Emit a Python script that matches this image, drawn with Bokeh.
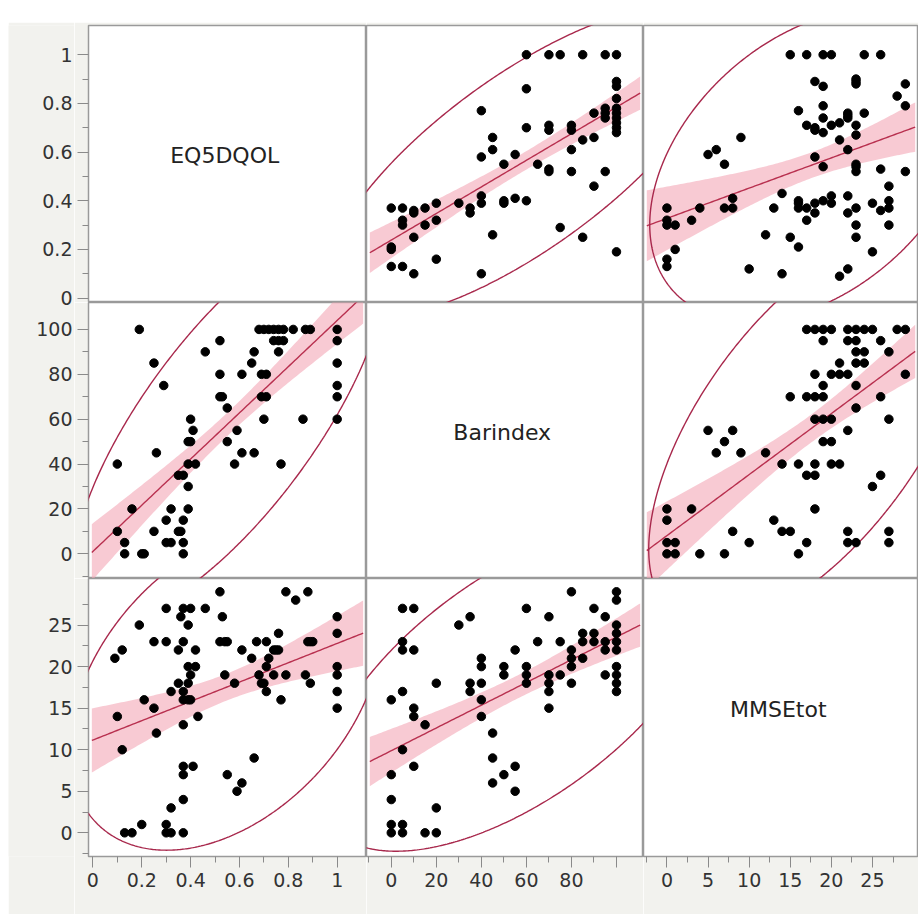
import numpy as np
from bokeh.plotting import figure
from bokeh.layouts import gridplot, column, row
from bokeh.models import FixedTicker, NumeralTickFormatter, Spacer, Range1d, Label
from bokeh.core.properties import value
from bokeh.embed import file_html
from bokeh.resources import INLINE

# ---------------- data ----------------
var_names = ["EQ5DQOL", "Barindex", "MMSEtot"]

# EQ5DQOL vs Barindex
eqbar_eq = [0.19, 0.10, 0.25, 0.29, 0.26, 0.16, 0.10, 0.13, 0.13, 0.20, 0.21, 0.25, 0.30, 0.32,
            0.30, 0.32, 0.35, 0.36, 0.37, 0.37, 0.37, 0.39, 0.39, 0.35, 0.37, 0.39, 0.42, 0.39,
            0.40, 0.41, 0.40, 0.46, 0.52, 0.52, 0.52, 0.53, 0.55, 0.55, 0.59, 0.58, 0.61, 0.66,
            0.61, 0.65, 0.66,
            0.68, 0.70, 0.72, 0.74, 0.76, 0.78, 0.82, 0.87, 0.89, 1.00,
            0.74, 0.76, 0.78, 1.00, 0.76, 0.69, 0.71, 0.69, 0.71, 1.00, 0.70, 0.86, 1.00, 0.77,
            1.00, 1.00]
eqbar_bar = [100, 40, 85, 75, 45, 20, 10, 5, 0, 0, 0, 10, 15, 20,
             5, 5, 10, 10, 15, 5, 0, 20, 30, 35, 35, 40, 40, 50,
             50, 55, 60, 90, 95, 80, 70, 70, 65, 50, 55, 40, 45, 45,
             80, 85, 90,
             100, 100, 100, 100, 100, 100, 100, 100, 100, 100,
             95, 95, 95, 95, 90, 80, 80, 70, 70, 70, 60, 60, 60, 40,
             85, 75]

# EQ5DQOL vs MMSEtot
eqmm_eq = [0.09, 0.12, 0.19, 0.10, 0.12, 0.13, 0.16, 0.20, 0.21, 0.25, 0.25, 0.26, 0.30, 0.30,
           0.30, 0.30, 0.32, 0.32, 0.32, 0.35, 0.35, 0.36, 0.37, 0.37, 0.37, 0.37, 0.39, 0.40,
           0.37, 0.37, 0.37, 0.37, 0.37, 0.39, 0.40, 0.39, 0.42, 0.40, 0.39, 0.42, 0.41, 0.43,
           0.46, 0.52, 0.53, 0.52, 0.54, 0.55, 0.54, 0.55, 0.58, 0.59, 0.61, 0.61, 0.65, 0.66,
           0.67, 0.68, 0.69, 0.70, 0.71, 0.71, 0.72, 0.71, 0.74, 0.74, 0.75, 0.76, 0.76, 0.77,
           0.79, 0.79, 0.83, 0.88, 0.87, 0.88, 0.89, 0.90, 0.89,
           1.00, 1.00, 1.00, 1.00, 1.00, 1.00]
eqmm_mm = [21, 22, 25, 14, 10, 0, 0, 1, 16, 23, 15, 12, 27, 23,
           1, 0, 0, 3, 17, 22, 18, 26, 27, 23, 17, 16, 16, 16,
           13, 8, 7, 4, 0, 25, 27, 20, 20, 19, 18, 22, 8, 14,
           27, 29, 26, 23, 23, 23, 19, 7, 18, 5, 6, 22, 21, 9,
           23, 19, 18, 18, 17, 23, 21, 20, 19, 22, 22, 22, 24, 16,
           19, 29, 28, 29, 19, 23, 23, 23, 18,
           26, 24, 20, 19, 17, 15]

# Barindex vs MMSEtot
barmm_bar = [0, 0, 0, 0, 0,
             5, 5, 5, 5, 5, 5, 5,
             10, 10, 10, 10, 10,
             15, 15,
             20, 20, 20,
             30,
             35, 35, 35,
             40, 40, 40, 40, 40,
             45, 45, 45,
             50, 50, 50,
             55, 55, 55,
             60, 60, 60, 60,
             65,
             70, 70, 70, 70, 70,
             75, 75,
             80, 80, 80, 80, 80,
             85, 85, 85,
             90, 90, 90,
             95, 95, 95, 95,
             100, 100, 100, 100, 100, 100, 100, 100, 100, 100]
barmm_mm = [16, 7, 4, 1, 0,
            27, 23, 22, 17, 10, 1, 0,
            27, 22, 15, 14, 8,
            13, 0,
            18, 3, 0,
            25,
            26, 18, 17,
            21, 20, 18, 16, 14,
            12, 9, 6,
            20, 19, 7,
            22, 8, 5,
            27, 20, 19, 18,
            23,
            26, 19, 18, 17, 15,
            23, 19,
            29, 22, 21, 20, 18,
            24, 23, 21,
            27, 24, 23,
            26, 23, 22, 19,
            29, 28, 25, 24, 23, 22, 20, 19, 18, 17]

pairs = {
    ("EQ5DQOL", "Barindex"): (eqbar_eq, eqbar_bar),
    ("EQ5DQOL", "MMSEtot"): (eqmm_eq, eqmm_mm),
    ("Barindex", "MMSEtot"): (barmm_bar, barmm_mm),
}

# Summary statistics of the full sample, bands and
# density ellipses shown in the picture (many observations overlap exactly).
stat_pair = [("EQ5DQOL", "Barindex"), ("EQ5DQOL", "MMSEtot"), ("Barindex", "MMSEtot")]
stat_mean_x = [0.558, 0.545, 55.7]
stat_mean_y = [58.5, 17.5, 17.5]
stat_sd_x = [0.255, 0.255, 35.0]
stat_sd_y = [35.0, 7.8, 7.85]
stat_r = [0.75, 0.38, 0.61]
stat_n = [80, 80, 80]

# tick values and their labels
major_ticks = {"EQ5DQOL": [0, 0.2, 0.4, 0.6, 0.8, 1],
               "Barindex": [0, 20, 40, 60, 80, 100],
               "MMSEtot": [0, 5, 10, 15, 20, 25]}
minor_ticks = {"EQ5DQOL": [0.1, 0.3, 0.5, 0.7, 0.9],
               "Barindex": [-10, 10, 30, 50, 70, 90],
               "MMSEtot": [-2.5, 2.5, 7.5, 12.5, 17.5, 22.5, 27.5]}
tick_labels = {"EQ5DQOL": ["0", "0.2", "0.4", "0.6", "0.8", "1"],
               "Barindex": ["0", "20", "40", "60", "80", "100"],
               "MMSEtot": ["0", "5", "10", "15", "20", "25"]}

# ---------------- styling / layout ----------------
axis_range = {"EQ5DQOL": (-0.018, 1.12), "Barindex": (-11.0, 112.0), "MMSEtot": (-2.85, 30.6)}
col_w = [278, 277, 275]
row_h = [277, 276, 278]
TOP_PAD = 3
BOTTOM_PAD = 58
LABEL_W = 66
TICK_W = 14
BG = "#f2f2ee"
FONT = "DejaVu Sans"
TEXT_COLOR = "#333333"
TICK_COLOR = "#8a8a8a"
FIT_COLOR = "#b8304f"
BAND_COLOR = "#f4a6b6"
ELL_COLOR = "#a8284c"


def get_xy(xv, yv):
    if (xv, yv) in pairs:
        a, b = pairs[(xv, yv)]
        return np.asarray(a, float), np.asarray(b, float)
    a, b = pairs[(yv, xv)]
    return np.asarray(b, float), np.asarray(a, float)


def get_stats(xv, yv):
    if (xv, yv) in stat_pair:
        k = stat_pair.index((xv, yv))
        return stat_mean_x[k], stat_mean_y[k], stat_sd_x[k], stat_sd_y[k], stat_r[k], stat_n[k]
    k = stat_pair.index((yv, xv))
    return stat_mean_y[k], stat_mean_x[k], stat_sd_y[k], stat_sd_x[k], stat_r[k], stat_n[k]


def style_axis(ax, var, show_labels=True, hide100=False):
    ax.ticker = FixedTicker(ticks=major_ticks[var], minor_ticks=minor_ticks[var])
    ax.axis_line_color = None
    ax.major_tick_in = 0
    ax.major_tick_out = 11
    ax.minor_tick_in = 0
    ax.minor_tick_out = 6
    ax.major_tick_line_color = TICK_COLOR
    ax.minor_tick_line_color = TICK_COLOR
    ax.major_label_text_font = FONT
    ax.major_label_text_color = TEXT_COLOR
    if show_labels:
        ax.formatter = NumeralTickFormatter(format="0.[0]")
        ax.major_label_text_font_size = "19px"
        ax.major_label_standoff = 5
        if hide100:
            ax.major_label_overrides = {100: ""}
    else:
        ax.major_label_overrides = {t: "" for t in major_ticks[var]}
        ax.major_label_text_font_size = "1px"
        ax.major_label_standoff = 0


grid_rows = []
for i, yv in enumerate(var_names):
    fig_row = []
    for j, xv in enumerate(var_names):
        xr = axis_range[xv]
        yr = axis_range[yv]
        p = figure(frame_width=col_w[j], frame_height=row_h[i],
                   x_range=Range1d(*xr), y_range=Range1d(*yr),
                   output_backend="svg", toolbar_location=None,
                   x_axis_location="below" if i == 2 else None,
                   y_axis_location="left" if j == 0 else None,
                   min_border=0,
                   min_border_left=TICK_W if j == 0 else 0,
                   min_border_bottom=BOTTOM_PAD if i == 2 else 0,
                   min_border_top=TOP_PAD if i == 0 else 0,
                   min_border_right=0)
        p.background_fill_color = "white"
        p.border_fill_color = BG
        p.outline_line_color = "#9a9a9a"
        p.outline_line_width = 1.5
        p.grid.visible = False
        if i == 2:
            style_axis(p.xaxis[0], xv, show_labels=True, hide100=(xv == "Barindex"))
        if j == 0:
            style_axis(p.yaxis[0], yv, show_labels=False)

        if i == j:
            lx = xr[0] + 0.49 * (xr[1] - xr[0])
            ly = yr[0] + 0.53 * (yr[1] - yr[0])
            p.add_layout(Label(x=lx, y=ly, text=xv, text_align="center",
                               text_baseline="middle", text_font=FONT,
                               text_font_size="22px", text_color="#222222"))
        else:
            x, y = get_xy(xv, yv)
            mx, my, sx, sy, r, n = get_stats(xv, yv)
            # least-squares line of y on x with 95% confidence band of the mean
            b1 = r * sy / sx
            b0 = my - b1 * mx
            s = sy * np.sqrt(1 - r ** 2) * np.sqrt((n - 1) / (n - 2))
            sxx = (n - 1) * sx ** 2
            span = xr[1] - xr[0]
            xs = np.linspace(xr[0] + 0.012 * span, xr[1] - 0.012 * span, 120)
            yh = b0 + b1 * xs
            se = s * np.sqrt(1.0 / n + (xs - mx) ** 2 / sxx)
            t = 1.99
            p.varea(x=xs, y1=yh - t * se, y2=yh + t * se, fill_color=BAND_COLOR, fill_alpha=0.6)
            p.line(xs, yh, line_color=FIT_COLOR, line_width=1.4)
            # 95% bivariate normal density ellipse
            d2 = n - 2
            f95 = (d2 / 2.0) * (0.05 ** (-2.0 / d2) - 1.0)
            c = np.sqrt(2.0 * (n - 1) / (n - 2) * f95)
            cov = np.array([[sx ** 2, r * sx * sy], [r * sx * sy, sy ** 2]])
            L = np.linalg.cholesky(cov)
            th = np.linspace(0, 2 * np.pi, 600)
            pts = np.array([[mx], [my]]) + c * (L @ np.vstack([np.cos(th), np.sin(th)]))
            p.line(pts[0], pts[1], line_color=ELL_COLOR, line_width=1.4)
            p.scatter(x, y, size=8.5, color="black")
        fig_row.append(p)
    grid_rows.append(fig_row)

grid = gridplot(grid_rows, toolbar_location=None)

# ---- left tick labels: one tall figure so that no label is cut at a row edge ----
total_h = sum(row_h)
lab = figure(frame_width=LABEL_W, frame_height=total_h,
             x_range=Range1d(0, LABEL_W), y_range=Range1d(0, total_h),
             output_backend="svg", toolbar_location=None,
             x_axis_location=None, y_axis_location=None,
             min_border=0, min_border_top=TOP_PAD, min_border_bottom=BOTTOM_PAD,
             min_border_left=0, min_border_right=0)
lab.outline_line_color = None
lab.background_fill_color = BG
lab.border_fill_color = BG
lab.grid.visible = False
for i, var in enumerate(var_names):
    lo, hi = axis_range[var]
    k = (hi - lo) / row_h[i]
    below = sum(row_h[i + 1:])
    above = sum(row_h[:i])
    name = "row%d" % i
    lab.extra_y_ranges[name] = Range1d(lo - k * below, hi + k * above)
    ticks = major_ticks[var]
    lab.text(x=[LABEL_W - 2] * len(ticks), y=ticks, text=tick_labels[var],
             y_range_name=name, text_align="right", text_baseline="middle",
             text_font=value(FONT), text_font_size="19px", text_color=TEXT_COLOR)

layout = column(Spacer(height=22, width=919),
                row(Spacer(width=8, height=10), lab, grid))

open("out.html", "w").write(file_html(layout, INLINE))
